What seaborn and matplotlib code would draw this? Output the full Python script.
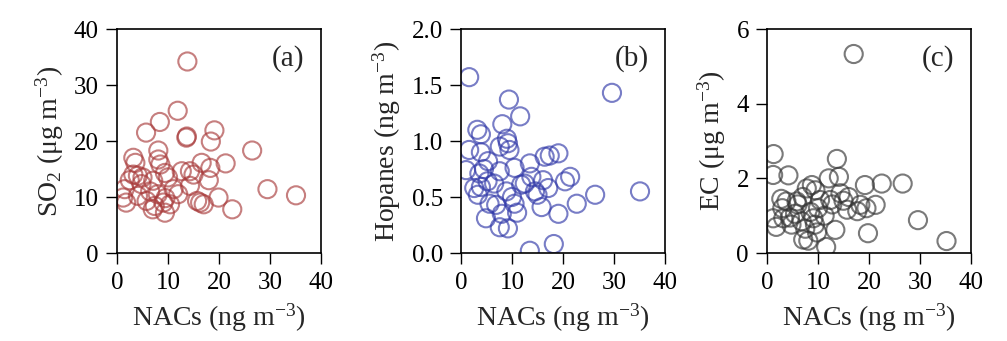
import numpy as np
import pandas as pd
import matplotlib
matplotlib.use("Agg")
import matplotlib.pyplot as plt
import seaborn as sns

# ---- data ----
a_nacs = [13.8, 11.9, 8.4, 5.7, 13.6, 13.7, 19.1, 18.4, 26.5, 8.1, 3.2, 3.6, 8.1, 8.5,
          21.3, 16.6, 14.3, 18.3, 4.1, 3.2, 9.4, 12.7, 15.0, 18.0, 14.3, 7.1, 4.8, 29.5,
          35.1, 1.5, 1.2, 1.8, 11.1, 12.0, 19.9, 15.7, 17.0, 22.6, 9.1, 9.4, 5.8, 7.4,
          4.1, 8.0, 10.4, 16.3, 6.5, 10.0, 2.5, 5.0, 9.5, 7.0]
a_so2 = [34.2, 25.4, 23.4, 21.5, 20.6, 20.8, 21.9, 19.9, 18.3, 18.3, 17.0, 16.1, 16.7, 15.8,
         16.0, 16.1, 14.6, 15.2, 13.8, 14.0, 14.3, 14.6, 14.0, 13.0, 12.0, 12.9, 12.3, 11.4,
         10.3, 11.4, 9.9, 9.0, 11.4, 10.5, 9.9, 9.3, 8.7, 7.8, 9.0, 7.2, 9.3, 8.4,
         10.2, 10.5, 8.7, 9.0, 11.0, 13.5, 13.0, 13.5, 9.8, 7.8]

b_nacs = [1.6, 29.6, 9.4, 11.6, 8.1, 3.2, 3.9, 9.0, 9.2, 1.6, 7.6, 9.5, 3.9, 19.1, 17.4,
          16.4, 1.0, 5.3, 13.5, 21.4, 20.4, 10.5, 3.6, 4.5, 7.6, 13.8, 16.1, 17.1, 26.3,
          35.1, 3.9, 5.2, 8.9, 11.8, 14.5, 15.0, 22.7, 15.8, 19.1, 5.6, 6.9, 10.5, 4.9,
          7.6, 9.2, 13.5, 18.2, 3.3, 2.6, 6.5, 10.0, 12.5, 8.0, 11.0]
b_hopanes = [1.57, 1.43, 1.37, 1.22, 1.15, 1.10, 1.06, 1.02, 0.98, 0.92, 0.95, 0.92, 0.90,
             0.89, 0.87, 0.86, 0.74, 0.82, 0.80, 0.68, 0.64, 0.76, 0.71, 0.75, 0.73, 0.68,
             0.65, 0.58, 0.52, 0.55, 0.59, 0.64, 0.55, 0.61, 0.55, 0.52, 0.44, 0.41, 0.35,
             0.44, 0.43, 0.44, 0.31, 0.23, 0.22, 0.02, 0.08, 0.52, 0.58, 0.62, 0.50, 0.62,
             0.35, 0.36]

c_nacs = [17.0, 1.3, 13.7, 1.2, 4.2, 12.1, 14.1, 26.6, 22.5, 19.2, 8.8, 7.8, 9.5, 14.4,
          16.0, 21.3, 18.3, 19.5, 2.8, 3.8, 5.8, 10.4, 12.4, 15.7, 17.7, 1.2, 3.2, 4.8,
          6.8, 9.1, 9.4, 11.3, 29.6, 35.2, 13.4, 19.8, 7.1, 8.1, 11.6, 1.8, 5.5, 7.0,
          8.5, 10.0, 6.0, 3.0, 4.5, 12.8, 15.0, 7.5, 9.8]
c_ec = [5.33, 2.65, 2.52, 2.09, 2.08, 2.00, 2.04, 1.86, 1.86, 1.82, 1.82, 1.73, 1.68, 1.60,
        1.50, 1.29, 1.29, 1.20, 1.45, 1.38, 1.38, 1.42, 1.42, 1.16, 1.12, 0.93, 0.93, 0.76,
        0.85, 0.93, 0.76, 1.00, 0.88, 0.32, 0.62, 0.53, 0.36, 0.33, 0.16, 0.70, 1.05, 1.50,
        1.10, 1.20, 1.30, 1.20, 0.95, 1.30, 1.40, 0.65, 0.55]

panels = [
    dict(x=a_nacs, y=a_so2, color="#a83a3a", ylim=(0, 40), yticks=[0, 10, 20, 30, 40],
         yfmt="{:.0f}", ylabel="SO$_2$ ($\\mathrm{\\mu}$g m$^{-3}$)", tag="(a)", left=117),
    dict(x=b_nacs, y=b_hopanes, color="#3038a8", ylim=(0, 2.0), yticks=[0, 0.5, 1.0, 1.5, 2.0],
         yfmt="{:.1f}", ylabel="Hopanes (ng m$^{-3}$)", tag="(b)", left=461),
    dict(x=c_nacs, y=c_ec, color="#333333", ylim=(0, 6), yticks=[0, 2, 4, 6],
         yfmt="{:.0f}", ylabel="EC ($\\mathrm{\\mu}$g m$^{-3}$)", tag="(c)", left=767),
]

sns.set_theme(style="ticks")
plt.rcParams["font.family"] = ["Liberation Serif", "DejaVu Serif"]
plt.rcParams["mathtext.fontset"] = "custom"
plt.rcParams["mathtext.rm"] = "Liberation Serif"
plt.rcParams["mathtext.it"] = "Liberation Serif:italic"
plt.rcParams["mathtext.default"] = "regular"

W, H = 1007, 341
fig = plt.figure(figsize=(W / 100, H / 100), dpi=100)
fig.patch.set_facecolor("white")

for p in panels:
    ax = fig.add_axes([p["left"] / W, 1 - 253 / H, 204 / W, 224 / H])
    df = pd.DataFrame({"x": p["x"], "y": p["y"]})
    sns.scatterplot(data=df, x="x", y="y", ax=ax, s=170, marker="o",
                    facecolors="none", edgecolor=p["color"], linewidth=1.5,
                    alpha=0.65, legend=False)
    ax.set_xlim(0, 40)
    ax.set_ylim(*p["ylim"])
    ax.set_xticks([0, 10, 20, 30, 40])
    ax.set_yticks(p["yticks"])
    ax.set_yticklabels([p["yfmt"].format(v) for v in p["yticks"]])
    ax.tick_params(axis="both", direction="out", length=8, width=1.0,
                   labelsize=18, colors="black", pad=5)
    ax.tick_params(axis="x", pad=6)
    ax.tick_params(top=False, right=False)
    for s in ax.spines.values():
        s.set_visible(True)
        s.set_linewidth(1.2)
        s.set_color("black")
    ax.set_xlabel("NACs (ng m$^{-3}$)", fontsize=20, labelpad=5)
    ax.set_ylabel(p["ylabel"], fontsize=20, labelpad=6)
    ax.text(0.92, 0.87, p["tag"], transform=ax.transAxes, ha="right", va="center",
            fontsize=21)
    ax.set_facecolor("white")

fig.savefig("out.png", dpi=100, facecolor="white")
